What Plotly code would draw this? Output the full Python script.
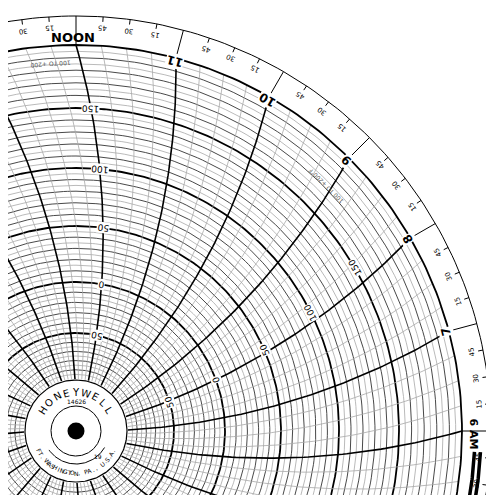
import numpy as np
import plotly.graph_objects as go

# ---- scale data ----
scale_values = [-100, -50, 0, 50, 100, 150, 200]
scale_radii = [52, 98, 149, 205, 263, 323, 386]      # px from hub centre
value_labels = ["50", "0", "50", "100", "150"]       # printed along noon line
value_label_vals = [-50, 0, 50, 100, 150]
hour_labels = ["NOON", "11", "10", "9", "8", "7", "6 AM"]
hour_label_pos = [0, 1, 2, 3, 4, 5, 6]               # hours before noon
minute_labels = ["45", "30", "15"]

R_EDGE = 386
R_OUT = 415
ARM = 700  # pen arm radius for curved time lines


def rad(v):
    return np.interp(v, scale_values, scale_radii)


def time_theta(theta0, r):
    off = np.degrees(np.arccos(r / (2 * ARM)) - np.arccos(R_EDGE / (2 * ARM)))
    return theta0 + off


def xy(r, th):
    t = np.radians(th)
    return r * np.sin(t), r * np.cos(t)


fig = go.Figure()


def add_lines(segs, color, width):
    xs, ys = [], []
    for sx, sy in segs:
        xs += list(sx) + [None]
        ys += list(sy) + [None]
    fig.add_trace(go.Scatter(x=xs, y=ys, mode="lines", hoverinfo="skip",
                             line=dict(color=color, width=width)))


full = np.linspace(0, 360, 361)

# concentric value circles
minor, mid, major = [], [], []
for v in range(-95, 200, 5):
    seg = xy(rad(v), full)
    if v % 50 == 0:
        major.append(seg)
    elif v % 10 == 0:
        mid.append(seg)
    else:
        minor.append(seg)
add_lines(minor, "#a8a8a8", 0.8)
add_lines(mid, "#333333", 0.9)
add_lines(major, "#000000", 1.8)

# curved time lines
rr = np.linspace(52, R_EDGE, 80)
q_lines, h_lines = [], []
for q in range(96):
    th0 = q * 3.75
    seg = xy(rr, time_theta(th0, rr))
    (h_lines if q % 4 == 0 else q_lines).append(seg)
add_lines(q_lines, "#a8a8a8", 0.8)
add_lines(h_lines, "#000000", 1.6)

# outer rings and ticks
add_lines([xy(R_EDGE, full)], "#000000", 1.8)
add_lines([xy(R_OUT, full)], "#000000", 1.0)
ticks = []
for q in range(96):
    th0 = q * 3.75
    if q % 4 == 0:
        ticks.append(xy(np.array([R_EDGE, R_OUT]), np.array([th0, th0])))
    else:
        ticks.append(xy(np.array([R_OUT - 5, R_OUT]), np.array([th0, th0])))
add_lines(ticks, "#000000", 1.0)
add_lines([xy(np.full(20, 399), np.linspace(93, 100, 20)),
           xy(np.full(20, 405), np.linspace(93, 100, 20))], "#000000", 3.5)

# hub
hub = np.linspace(0, 360, 200)
fig.add_trace(go.Scatter(x=xy(51, hub)[0], y=xy(51, hub)[1], fill="toself",
                         fillcolor="white", mode="lines", hoverinfo="skip",
                         line=dict(color="#000000", width=1.2)))
add_lines([xy(25, full), xy(np.full(60, 33), np.linspace(120, 235, 60))],
          "#000000", 1.0)
fig.add_trace(go.Scatter(x=[0], y=[0], mode="markers", hoverinfo="skip",
                         marker=dict(size=17, color="black")))

ann = []


def label(x, y, text, angle, size, bold=False, bg=None, color="black"):
    a = angle % 360
    ann.append(dict(x=x, y=y, text=f"<b>{text}</b>" if bold else text,
                    textangle=a if a <= 180 else a - 360,
                    showarrow=False, bgcolor=bg, borderpad=0,
                    font=dict(size=size, color=color, family="DejaVu Sans")))


# hour labels
for h in range(24):
    th = h * 15
    if h in hour_label_pos:
        txt = hour_labels[h]
        if txt == "NOON":
            label(*xy(R_EDGE + 8, -0.5), txt, 0, 13, bold=True)
        elif txt == "6 AM":
            label(*xy(R_EDGE + 12, 90.5), txt, 90, 11, bold=True)
        else:
            label(*xy(R_EDGE - 3, th), txt, th + 180, 12, bold=True, bg="white")
    for i, m in enumerate(minute_labels):
        t = th + 3.75 * (i + 1)
        label(*xy(404, t), m, t + 180, 7)

# value labels along noon and 8 o'clock lines
for th0 in (0, 60):
    for txt, v in zip(value_labels, value_label_vals):
        r = rad(v)
        th = time_theta(th0, r)
        if th0 == 60:
            th -= 3 * (r - 150) / 170
        label(*xy(r, th), txt, th + 180, 9, bg="white")

label(*xy(368, -4), "100 TO +200", 176, 6, color="#555555")
label(*xy(350, 45.5), "100 TO +200°F", 225, 6, color="#555555")

# hub text
for ch, th in zip("HONEYWELL", np.linspace(-58, 58, 9)):
    label(*xy(39, th), ch, th, 10)
for ch, th in zip("FT. WASHINGTON, PA., U.S.A.", np.linspace(242, 118, 27)):
    label(*xy(42, th), ch, th - 180, 6)
label(0, 30, "14626", 0, 6)
label(22, -25, "19", 0, 6)

fig.update_layout(
    width=494, height=495, margin=dict(l=0, r=0, t=0, b=0),
    paper_bgcolor="white", plot_bgcolor="white", showlegend=False,
    annotations=ann,
    xaxis=dict(range=[-68, 426], visible=False, fixedrange=True),
    yaxis=dict(range=[-72, 423], visible=False, scaleanchor="x", fixedrange=True),
)
fig.write_html("out.html")
